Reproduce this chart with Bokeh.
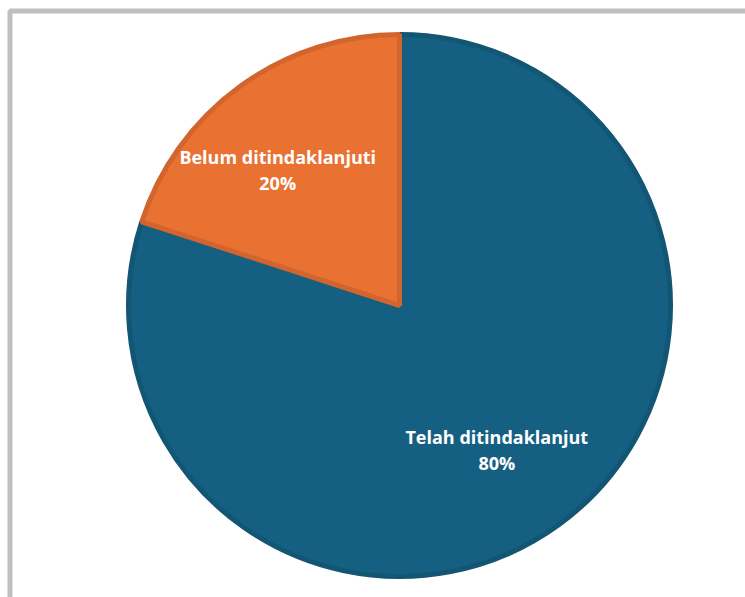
import math
from bokeh.plotting import figure
from bokeh.models import Range1d, ColumnDataSource
from bokeh.core.properties import value
from bokeh.embed import file_html
from bokeh.resources import INLINE

# data
categories = ["Telah ditindaklanjut", "Belum ditindaklanjuti"]
values = [80, 20]
percent_labels = ["80%", "20%"]

# styles / layout
fill_colors = ["#156082", "#E97132"]
edge_colors = ["#125674", "#D2652E"]
W, H = 745, 597
CX, CY, R = 399, H - 305, 271
label_angle_deg = [-56, 132]
label_radius = [174, 182]

p = figure(width=W, height=H, output_backend="svg", toolbar_location=None,
           x_range=Range1d(0, W), y_range=Range1d(0, H), min_border=0)
p.axis.visible = False
p.grid.visible = False
p.outline_line_color = None
p.background_fill_color = "white"

# frame
p.line([9.5, 9.5, W + 20], [-20, H - 10.5, H - 10.5], line_color="#BFBFBF", line_width=5)

total = sum(values)
starts, ends = [], []
a = math.pi / 2
for v in values:
    starts.append(a)
    a -= v / total * 2 * math.pi
    ends.append(a)

src = ColumnDataSource(dict(start=starts, end=ends, fill=fill_colors, edge=edge_colors))
p.wedge(x=CX, y=CY, radius=R, start_angle="start", end_angle="end", direction="clock",
        fill_color="fill", line_color="edge", line_width=5, source=src)

lx, ly1, ly2 = [], [], []
for ang, rr in zip(label_angle_deg, label_radius):
    t = math.radians(ang)
    x = CX + rr * math.cos(t)
    y = CY + rr * math.sin(t)
    lx.append(x)
    ly1.append(y + 13)
    ly2.append(y - 13)

lsrc = ColumnDataSource(dict(x=lx, y1=ly1, y2=ly2, name=categories, pct=percent_labels))
for col in ("y1", "y2"):
    p.text(x="x", y=col, text="name" if col == "y1" else "pct", source=lsrc,
           text_color="white", text_font=value("Open Sans"), text_font_style="bold",
           text_font_size="18px", text_align="center", text_baseline="middle")

open("out.html", "w").write(file_html(p, INLINE))
